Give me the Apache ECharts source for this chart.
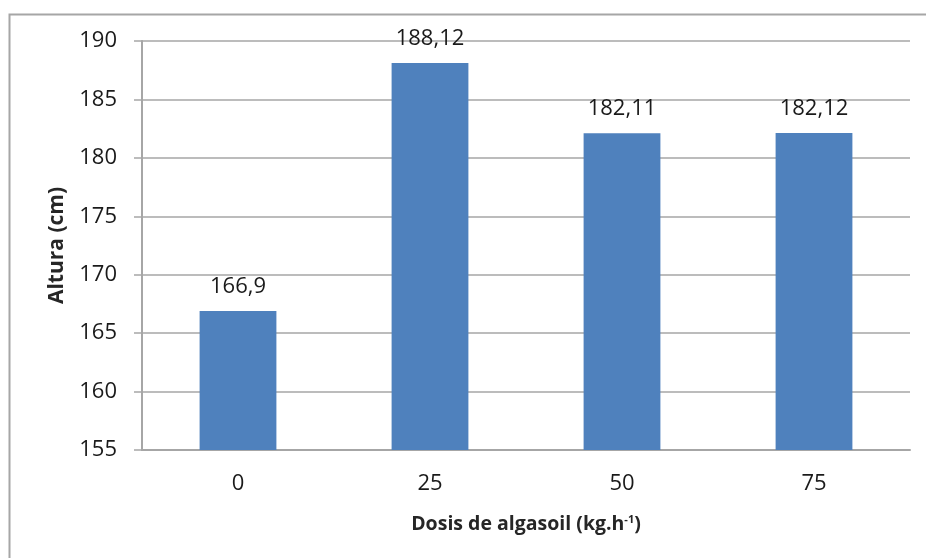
<!DOCTYPE html>
<html>
<head>
<meta charset="utf-8">
<script src="https://cdn.jsdelivr.net/npm/echarts@6/dist/echarts.min.js"></script>
<style>
  html, body { margin: 0; padding: 0; background: #fff; }
  #chart { width: 926px; height: 558px; }
</style>
</head>
<body>
<div id="chart"></div>
<script>
// Doses of algasoil (kg/ha) and measured plant height (cm)
const categories = ['0', '25', '50', '75'];
const alturaValues = [166.9, 188.12, 182.11, 182.12];
const yMin = 155;
const yMax = 190;
const yStep = 5;

const FONT = '"Open Sans", "Liberation Sans", sans-serif';
const chart = echarts.init(document.getElementById('chart'), null, { renderer: 'canvas' });

chart.setOption({
  animation: false,
  backgroundColor: '#ffffff',
  graphic: [{
    type: 'rect',
    left: 7, top: 12,
    shape: { width: 940, height: 580 },
    style: { fill: 'none', stroke: '#a6a6a6', lineWidth: 2 }
  }],
  grid: { left: 142, right: 16, top: 41, bottom: 108, containLabel: false },
  xAxis: {
    type: 'category',
    data: categories,
    axisLine: { show: true, lineStyle: { color: '#a6a6a6', width: 2 } },
    axisTick: { show: false },
    axisLabel: { color: '#1a1a1a', fontSize: 22, fontFamily: FONT, margin: 23 },
    name: '{t|Dosis de algasoil (kg.h}{s|-1}{t|)}',
    nameLocation: 'middle',
    nameGap: 64,
    nameTextStyle: {
      rich: {
        t: { fontSize: 19.5, fontWeight: 'bold', color: '#262626', fontFamily: FONT },
        s: { fontSize: 11, fontWeight: 'bold', color: '#262626', fontFamily: FONT, verticalAlign: 'top', padding: [0, 0, 9, 0] }
      }
    }
  },
  yAxis: {
    type: 'value',
    min: yMin, max: yMax, interval: yStep,
    axisLine: { show: true, lineStyle: { color: '#a6a6a6', width: 2 } },
    axisTick: { show: true, length: 8, lineStyle: { color: '#a6a6a6', width: 1.5 } },
    splitLine: { show: true, lineStyle: { color: '#a6a6a6', width: 1.5 } },
    axisLabel: { color: '#1a1a1a', fontSize: 22, fontFamily: FONT, margin: 25 },
    name: 'Altura (cm)',
    nameLocation: 'middle',
    nameGap: 74,
    nameRotate: 90,
    nameTextStyle: { fontSize: 21, fontWeight: 'bold', color: '#262626', fontFamily: FONT }
  },
  series: [{
    type: 'bar',
    data: alturaValues,
    barWidth: '40%',
    itemStyle: { color: '#4f81bd' },
    label: {
      show: true,
      position: 'top',
      distance: 13,
      color: '#1a1a1a',
      fontSize: 22,
      fontFamily: FONT,
      formatter: p => String(p.value).replace('.', ',')
    }
  }]
});
</script>
</body>
</html>
